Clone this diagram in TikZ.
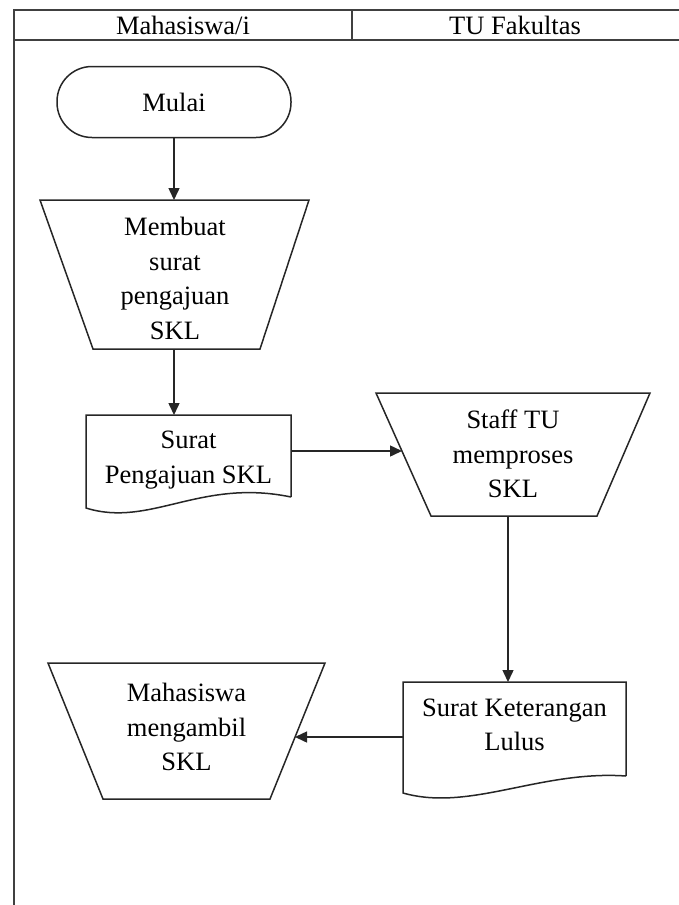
\documentclass[tikz,border=0pt]{standalone}
\usepackage{fontspec}
\setmainfont{Liberation Serif}
\usetikzlibrary{arrows.meta}
\tikzset{
  lbl/.style={align=center, font=\fontsize{26.5}{34.5}\selectfont, inner sep=0pt, text=black},
  outline/.style={draw=black!85, line width=1.5pt, line join=miter},
  arr/.style={draw=black!85, line width=1.5pt, -{Triangle[length=12pt,width=11pt]}},
  frame/.style={draw=black!75, line width=1.5pt}
}
\begin{document}
\begin{tikzpicture}[x=1pt,y=-1pt]
\useasboundingbox (0,0) rectangle (679,905);
% swimlane frame
\draw[frame] (14,905) -- (14,10) -- (679,10);
\draw[frame] (14,40) -- (679,40);
\draw[frame] (352,10) -- (352,40);
\node[lbl] (laneA) at (183,25.5) {Mahasiswa/i};
\node[lbl] (laneB) at (515,25.5) {TU Fakultas};

% Mulai
\node[lbl, draw=black!85, line width=1.5pt, rounded corners=35pt, minimum width=234pt, minimum height=71pt] (mulai) at (174,102) {Mulai};

% Membuat surat pengajuan SKL (manual operation)
\draw[outline] (40,200) -- (309,200) -- (260,349) -- (93,349) -- cycle;
\node[lbl] (membuat) at (175,278.5) {Membuat\\surat\\pengajuan\\SKL};
\coordinate (membuatTop) at (174,200);
\coordinate (membuatBot) at (174,349);

% Document: Surat Pengajuan SKL
\draw[outline] (291,497) -- (291,415) -- (86,415) -- (86,508)
  .. controls (150,528) and (200,478) .. (291,497);
\node[lbl] (doc1) at (188.5,460) {Surat\\Pengajuan SKL};
\coordinate (doc1Top) at (174,415);
\coordinate (doc1Out) at (291,451);

% Staff TU memproses SKL
\draw[outline] (376,393) -- (650,393) -- (597,516) -- (431,516) -- cycle;
\node[lbl] (staff) at (513,454) {Staff TU\\memproses\\SKL};
\coordinate (staffIn) at (402,451);
\coordinate (staffBot) at (508,516);

% Document: Surat Keterangan Lulus
\draw[outline] (626,776) -- (626,682) -- (403,682) -- (403,793)
  .. controls (470,812) and (540,770) .. (626,776);
\node[lbl] (doc2) at (514.5,725) {Surat Keterangan\\Lulus};
\coordinate (doc2Top) at (508,682);
\coordinate (doc2Out) at (403,737);

% Mahasiswa mengambil SKL
\draw[outline] (48,663) -- (325,663) -- (270,799) -- (103,799) -- cycle;
\node[lbl] (ambil) at (186.5,727) {Mahasiswa\\mengambil\\SKL};
\coordinate (ambilIn) at (295,737);

% connectors
\draw[arr] (mulai.south) -- (membuatTop);
\draw[arr] (membuatBot) -- (doc1Top);
\draw[arr] (doc1Out) -- (staffIn);
\draw[arr] (staffBot) -- (doc2Top);
\draw[arr] (doc2Out) -- (ambilIn);
\end{tikzpicture}
\end{document}
